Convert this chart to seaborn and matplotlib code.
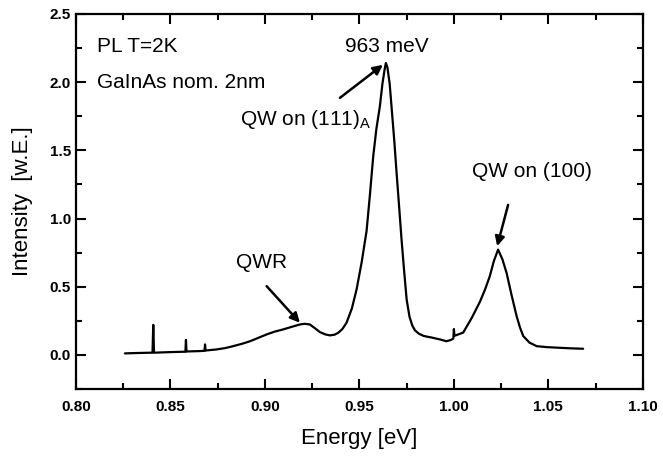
import numpy as np
import pandas as pd
import matplotlib
matplotlib.use('Agg')
import matplotlib.pyplot as plt
from matplotlib.ticker import MultipleLocator, FormatStrFormatter
import seaborn as sns

sns.set_style('ticks')
plt.rcParams['font.family'] = ['Liberation Sans', 'DejaVu Sans']
plt.rcParams['mathtext.fontset'] = 'custom'
plt.rcParams['mathtext.rm'] = 'Liberation Sans'
plt.rcParams['text.color'] = 'black'
plt.rcParams['axes.labelcolor'] = 'black'
plt.rcParams['axes.edgecolor'] = 'black'
plt.rcParams['xtick.color'] = 'black'
plt.rcParams['ytick.color'] = 'black'

# PL spectrum (energy in eV, intensity in arb. units)
energy = [
    0.8259, 0.8330, 0.8392, 0.8405, 0.8409, 0.8413, 0.8490, 0.8568, 0.8579, 0.8582,
    0.8585, 0.8656, 0.8680, 0.8683, 0.8686, 0.8744, 0.8790, 0.8832, 0.8880, 0.8921,
    0.8965, 0.9009, 0.9050, 0.9097, 0.9140, 0.9185, 0.9210, 0.9238, 0.9265, 0.9291,
    0.9320, 0.9344, 0.9368, 0.9388, 0.9410, 0.9432, 0.9460, 0.9485, 0.9512, 0.9538,
    0.9556, 0.9573, 0.9590, 0.9608, 0.9622, 0.9633, 0.9640, 0.9648, 0.9660, 0.9670,
    0.9684, 0.9697, 0.9710, 0.9723, 0.9737, 0.9750, 0.9765, 0.9780, 0.9794, 0.9815,
    0.9838, 0.9860, 0.9880, 0.9899, 0.9930, 0.9961, 0.9985, 0.9997, 1.0000, 1.0003,
    1.0049, 1.0094, 1.0138, 1.0165, 1.0190, 1.0212, 1.0234, 1.0257, 1.0279, 1.0305,
    1.0332, 1.0350, 1.0367, 1.0400, 1.0438, 1.0490, 1.0560, 1.0620, 1.0684,
]
intensity = [
    0.011, 0.014, 0.016, 0.016, 0.220, 0.016, 0.020, 0.023, 0.023, 0.110,
    0.025, 0.028, 0.030, 0.077, 0.032, 0.040, 0.050, 0.064, 0.082, 0.100,
    0.125, 0.150, 0.170, 0.187, 0.205, 0.223, 0.228, 0.223, 0.195, 0.167,
    0.150, 0.143, 0.148, 0.162, 0.190, 0.236, 0.340, 0.480, 0.680, 0.910,
    1.180, 1.455, 1.660, 1.820, 1.990, 2.090, 2.140, 2.110, 1.990, 1.820,
    1.580, 1.330, 1.090, 0.846, 0.610, 0.406, 0.280, 0.215, 0.180, 0.155,
    0.140, 0.133, 0.128, 0.122, 0.112, 0.100, 0.110, 0.120, 0.190, 0.140,
    0.163, 0.270, 0.390, 0.480, 0.577, 0.690, 0.772, 0.700, 0.600, 0.440,
    0.284, 0.200, 0.138, 0.090, 0.064, 0.057, 0.052, 0.048, 0.045,
]

df = pd.DataFrame({'Energy': energy, 'Intensity': intensity})

fig = plt.figure(figsize=(6.63, 4.58), dpi=100)
ax = fig.add_axes([0.1146, 0.1507, 0.855, 0.8188])

sns.lineplot(data=df, x='Energy', y='Intensity', sort=False, estimator=None,
             color='black', lw=1.6, ax=ax)

ax.set_xlim(0.80, 1.10)
ax.set_ylim(-0.25, 2.5)
ax.xaxis.set_major_locator(MultipleLocator(0.05))
ax.xaxis.set_minor_locator(MultipleLocator(0.025))
ax.yaxis.set_major_locator(MultipleLocator(0.5))
ax.yaxis.set_minor_locator(MultipleLocator(0.25))
ax.xaxis.set_major_formatter(FormatStrFormatter('%.2f'))
ax.yaxis.set_major_formatter(FormatStrFormatter('%.1f'))
ax.tick_params(which='both', direction='in', top=True, right=True, width=1.5)
ax.tick_params(which='major', length=7, labelsize=11)
ax.tick_params(which='minor', length=4)
ax.tick_params(axis='x', pad=8)
for lab in ax.get_xticklabels() + ax.get_yticklabels():
    lab.set_fontweight('bold')
for sp in ax.spines.values():
    sp.set_linewidth(1.6)

ax.set_xlabel('Energy [eV]', fontsize=16, labelpad=10)
ax.set_ylabel('Intensity  [w.E.]', fontsize=16, labelpad=12)

ax.text(0.8109, 2.258, 'PL T=2K', fontsize=15, va='center', ha='left')
ax.text(0.8109, 1.997, 'GaInAs nom. 2nm', fontsize=15, va='center', ha='left')

arrow = dict(arrowstyle='-|>', color='black', lw=1.8, mutation_scale=14,
             shrinkA=0, shrinkB=0)
ax.text(0.9646, 2.258, '963 meV', fontsize=15, va='center', ha='center')
ax.annotate('', xy=(0.9624, 2.127), xytext=(0.9397, 1.885), arrowprops=arrow)
ax.text(0.9566, 1.686, r'QW on (111)$_\mathregular{A}$', fontsize=15,
        va='baseline', ha='right')
ax.text(1.0413, 1.343, 'QW on (100)', fontsize=15, va='center', ha='center')
ax.annotate('', xy=(1.0229, 0.797), xytext=(1.0287, 1.10), arrowprops=arrow)
ax.text(0.8982, 0.68, 'QWR', fontsize=15, va='center', ha='center')
ax.annotate('', xy=(0.9185, 0.236), xytext=(0.9009, 0.504), arrowprops=arrow)

fig.savefig('out.png', dpi=100)
